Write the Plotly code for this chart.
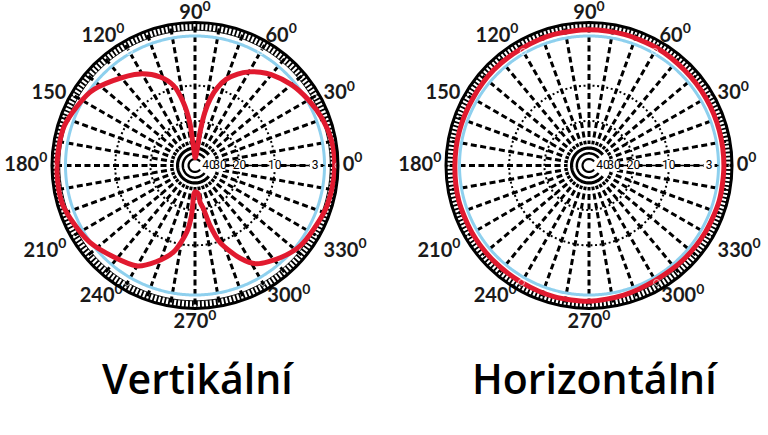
import numpy as np
import plotly.graph_objects as go

# ---------------- data ----------------
# Vertical radiation pattern: angle (deg) and attenuation (dB below max)
vert_theta = [0, 10, 20, 30, 40, 50, 55, 60, 65, 70, 74, 77, 79.5, 81.5, 82.5, 86, 90,
              93, 95.5, 97, 100.5, 105, 111.5, 121, 134, 145, 163, 180,
              196, 216, 240, 248, 256, 263, 266, 268, 270,
              276, 278, 281, 284, 288, 296, 302, 313, 323, 340, 350, 360]
vert_db = [0.4, 0.5, 0.9, 1.5, 2.2, 3.2, 3.9, 4.8, 6.0, 7.6, 9.8, 12.5, 16.7, 24.8, 36.7, 48, 50,
           42, 31, 20.4, 13.7, 9.4, 7.0, 5.0, 3.3, 1.9, 0.8, 0.6,
           0.6, 1.6, 3.6, 5.5, 8.1, 13.0, 18, 28, 29,
           28, 23, 20.3, 14.4, 9.8, 5.6, 3.6, 2.2, 1.3, 0.7, 0.5, 0.4]

# Horizontal radiation pattern
horiz_theta = [0, 15, 30, 45, 60, 75, 90, 105, 120, 135, 150, 165, 180,
               195, 210, 225, 240, 255, 270, 285, 300, 315, 330, 345, 360]
horiz_db = [1.0, 1.0, 1.0, 1.0, 0.9, 0.9, 0.9, 0.9, 1.0, 1.0, 1.1, 1.1, 1.1,
            1.0, 1.0, 1.0, 1.0, 0.9, 0.9, 1.1, 1.3, 1.2, 1.1, 1.0, 1.0]

# Radial scale labels (dB) and angular labels
radial_tick_db = [40, 30, 20, 10, 3]
radial_grid_db = [10, 20]
reference_db = 1.7            # light-blue reference circle
spoke_angles = list(range(0, 360, 10))
label_angles = [0, 30, 60, 90, 120, 150, 180, 210, 240, 270, 300, 330]
label_texts = ["0<sup>0</sup>", "30<sup>0</sup>", "60<sup>0</sup>", "90<sup>0</sup>",
               "120<sup>0</sup>", "150", "180<sup>0</sup>", "210<sup>0</sup>",
               "240<sup>0</sup>", "270<sup>0</sup>", "300<sup>0</sup>", "330<sup>0</sup>"]
# label anchor (radius in axis units) and text placement around the anchor
label_anchor_r = [1.0, 1.0, 0.92, 0.99, 0.92, 1.0, 1.0, 1.0, 0.945, 1.0, 0.945, 1.0]
label_pos = ["middle right", "middle right", "top right", "top center", "top left",
             "middle left", "middle left", "bottom left", "bottom left", "bottom center",
             "bottom right", "bottom right"]
label_gap = [6, 6, 6, 0, 6, 6, 6, 6, 6, 6, 6, 6]
titles = ["Vertikální", "Horizontální"]


def to_r(db):
    """ARRL log-periodic radial scale (0 dB at the rim)."""
    return 0.89 ** (np.asarray(db, dtype=float) / 2.0)


RED = "#e11a2f"
BLUE = "#8ed0ee"

fig = go.Figure()
full = np.linspace(0, 360, 721)
c_arc = np.linspace(38, 322, 200)

for sp, th, db in [("polar", vert_theta, vert_db), ("polar2", horiz_theta, horiz_db)]:
    # white centre disk
    fig.add_trace(go.Scatterpolar(r=np.full(full.size, 0.15), theta=full, mode="lines",
                                  fill="toself", fillcolor="white",
                                  line=dict(color="white", width=0), subplot=sp,
                                  hoverinfo="skip", showlegend=False))
    # "C" arcs at the centre
    for rr, w in [(0.045, 2.2), (0.085, 2.5), (0.122, 3.2)]:
        fig.add_trace(go.Scatterpolar(r=np.full(c_arc.size, rr), theta=c_arc, mode="lines",
                                      line=dict(color="black", width=w), subplot=sp,
                                      hoverinfo="skip", showlegend=False))
    # reference circle
    fig.add_trace(go.Scatterpolar(r=np.full(full.size, float(to_r(reference_db))), theta=full,
                                  mode="lines", line=dict(color=BLUE, width=3),
                                  subplot=sp, hoverinfo="skip", showlegend=False))
    # tick band on the rim
    fig.add_trace(go.Scatterpolar(r=np.full(full.size, 0.972), theta=full, mode="lines",
                                  line=dict(color="black", width=7.5, dash="1.8px,2.2px"),
                                  subplot=sp, hoverinfo="skip", showlegend=False))
    fig.add_trace(go.Scatterpolar(r=np.full(full.size, 0.946), theta=full, mode="lines",
                                  line=dict(color="black", width=1),
                                  subplot=sp, hoverinfo="skip", showlegend=False))
    # radial scale line along 0 deg
    fig.add_trace(go.Scatterpolar(r=[float(to_r(30)), float(to_r(reference_db))], theta=[0, 0],
                                  mode="lines", line=dict(color="black", width=1.5),
                                  subplot=sp, hoverinfo="skip", showlegend=False))
    # radial scale labels
    fig.add_trace(go.Scatterpolar(r=to_r(radial_tick_db), theta=[0] * len(radial_tick_db),
                                  mode="markers+text",
                                  text=[str(v) for v in radial_tick_db],
                                  textposition="middle center",
                                  textfont=dict(family="Liberation Sans Narrow, Roboto, sans-serif",
                                                size=12, color="black"),
                                  marker=dict(symbol="square", size=11, color="white"),
                                  subplot=sp, hoverinfo="skip", showlegend=False))
    # pattern
    fig.add_trace(go.Scatterpolar(r=to_r(db), theta=th, mode="lines",
                                  line=dict(color=RED, width=5, shape="spline", smoothing=0.8),
                                  subplot=sp, hoverinfo="skip", showlegend=False))
    # angle labels just outside the rim
    fig.add_trace(go.Scatterpolar(r=label_anchor_r, theta=label_angles,
                                  mode="markers+text",
                                  marker=dict(size=label_gap, color="rgba(0,0,0,0)"),
                                  text=["<b>" + t + "</b>" for t in label_texts],
                                  textposition=label_pos,
                                  cliponaxis=False,
                                  textfont=dict(family="Lato, Open Sans, sans-serif",
                                                size=20, color="#1a1a1a"),
                                  subplot=sp, hoverinfo="skip", showlegend=False))

angular = dict(
    rotation=0, direction="counterclockwise",
    tickmode="array", tickvals=spoke_angles, showticklabels=False,
    ticks="", showline=True, linecolor="black", linewidth=3,
    showgrid=True, gridcolor="black", gridwidth=2.5, griddash="6px,3.5px",
)
radial = dict(
    range=[0, 1], tickmode="array", tickvals=list(to_r(radial_grid_db)),
    showticklabels=False, ticks="", showline=False,
    showgrid=True, gridcolor="black", gridwidth=2, griddash="2px,2.6px",
)

W, H = 768, 435
R = 143
cy = 165.5
def dom(cx):
    return dict(x=[(cx - R) / W, (cx + R) / W], y=[(H - cy - R) / H, (H - cy + R) / H])

title_font = dict(family="Open Sans, Noto Sans, sans-serif", size=41, color="black", weight=600)
fig.update_layout(
    width=W, height=H, margin=dict(l=0, r=0, t=0, b=0),
    paper_bgcolor="white", plot_bgcolor="white", showlegend=False,
    polar=dict(domain=dom(195), bgcolor="white", angularaxis=angular, radialaxis=radial),
    polar2=dict(domain=dom(589), bgcolor="white", angularaxis=angular, radialaxis=radial),
    annotations=[
        dict(text=titles[0], x=198 / W, y=(H - 378) / H, xref="paper", yref="paper",
             xanchor="center", yanchor="middle", showarrow=False, font=title_font),
        dict(text=titles[1], x=595 / W, y=(H - 378) / H, xref="paper", yref="paper",
             xanchor="center", yanchor="middle", showarrow=False, font=title_font),
    ],
)

fig.write_html("out.html")
